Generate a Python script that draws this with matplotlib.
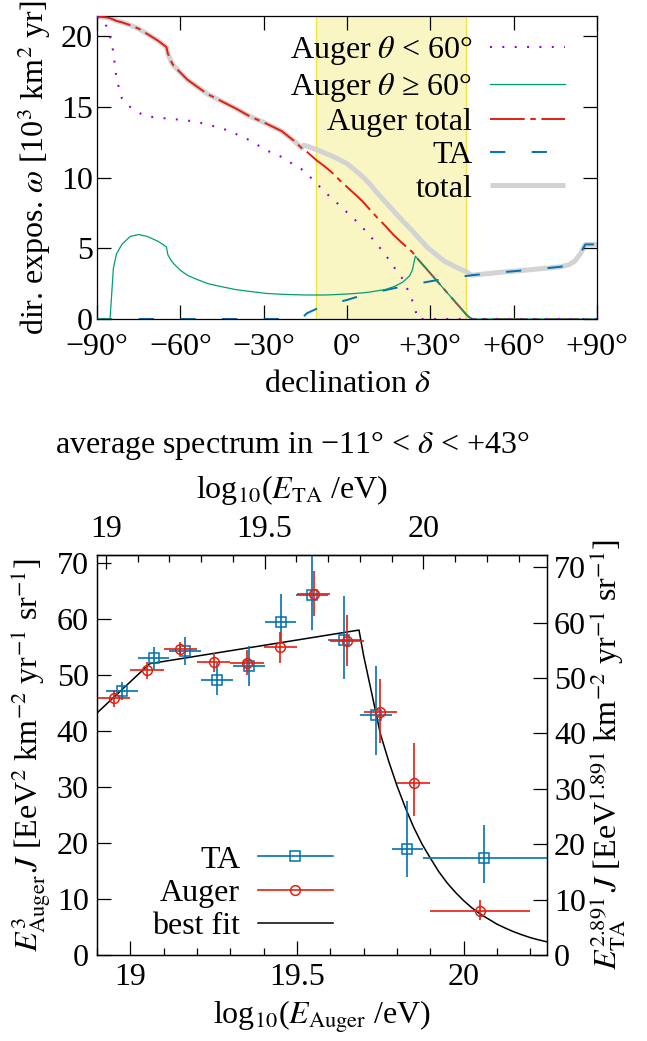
import numpy as np
import matplotlib
matplotlib.use('Agg')
import matplotlib.pyplot as plt
from matplotlib.lines import Line2D
from matplotlib.ticker import FixedLocator, FixedFormatter, MultipleLocator

plt.rcParams['font.family'] = ['Liberation Serif', 'DejaVu Serif']
plt.rcParams['mathtext.fontset'] = 'stix'
plt.rcParams['lines.scale_dashes'] = False
plt.rcParams['axes.linewidth'] = 0.9

# ---------------- top panel data (directional exposure) ----------------
dec = [-90, -88, -86.5, -85.3, -84.8, -84.1, -83, -81, -78, -75, -72, -68, -65, -64.5,
       -63.5, -62.5, -60, -57.5, -54, -50, -45, -40, -35, -29, -23.5, -19, -16.3, -15.7,
       -14.5, -11, -8, -5, -2, 0, 2.5, 5.5, 8, 11, 14, 17, 20, 22.5, 23.5, 24.6, 25.3,
       29, 35, 40, 43, 44, 45, 50, 55, 60, 67, 72, 77, 80, 82, 84, 85, 85.8, 90]

auger_lo60 = [21.4, 21.2, 20.7, 20.0, 19.5, 18.9, 17.0, 15.6, 15.0, 14.6, 14.35, 14.25, 14.2, 14.2,
              14.17, 14.15, 14.1, 14.05, 13.95, 13.75, 13.5, 13.1, 12.65, 11.94, 11.47, 10.9, 10.6, 10.5,
              10.3, 9.6, 9.0, 8.45, 7.94, 7.55, 7.1, 6.5, 5.95, 5.25, 4.5, 3.65, 2.85, 1.8, 1.3, 0.7, 0.0,
              0, 0, 0, 0, 0, 0, 0, 0, 0, 0, 0, 0, 0, 0, 0, 0, 0, 0]

auger_hi60 = [0, 0, 0, 0, 1.5, 3.6, 4.6, 5.3, 5.85, 5.98, 5.85, 5.5, 5.1, 4.55,
              4.2, 3.94, 3.45, 3.1, 2.8, 2.5, 2.28, 2.08, 1.95, 1.81, 1.75, 1.72, 1.71, 1.7,
              1.7, 1.7, 1.7, 1.72, 1.75, 1.77, 1.8, 1.85, 1.9, 2.0, 2.1, 2.3, 2.6, 3.05, 3.45, 4.45, 4.29,
              3.46, 2.1, 0.98, 0.3, 0.12, 0, 0, 0, 0, 0, 0, 0, 0, 0, 0, 0, 0, 0]

auger_total = [21.4, 21.38, 21.35, 21.3, 21.25, 21.2, 21.1, 21.0, 20.8, 20.55, 20.19, 19.7, 19.25, 18.8,
               18.3, 17.95, 17.45, 16.95, 16.45, 15.9, 15.4, 14.9, 14.35, 13.83, 13.3, 12.6, 12.1, 12.0,
               11.85, 11.24, 10.8, 10.3, 9.7, 9.35, 8.9, 8.35, 7.8, 7.15, 6.55, 5.9, 5.35, 4.92, 4.75, 4.45, 4.29,
               3.46, 2.1, 0.98, 0.3, 0.12, 0, 0, 0, 0, 0, 0, 0, 0, 0, 0, 0, 0, 0]

ta_expo = [0, 0, 0, 0, 0, 0, 0, 0, 0, 0, 0, 0, 0, 0,
           0, 0, 0, 0, 0, 0, 0, 0, 0, 0, 0, 0, 0, 0.16,
           0.4, 0.72, 0.95, 1.1, 1.25, 1.35, 1.5, 1.68, 1.8, 1.92, 2.05, 2.18, 2.3, 2.4, 2.43, 2.47, 2.5,
           2.63, 2.85, 2.98, 3.05, 3.07, 3.1, 3.2, 3.3, 3.38, 3.51, 3.6, 3.7, 3.85, 4.1, 4.6, 5.0, 5.28, 5.28]

total_expo = [21.4, 21.38, 21.35, 21.3, 21.25, 21.2, 21.1, 21.0, 20.8, 20.55, 20.19, 19.7, 19.25, 18.8,
              18.3, 17.95, 17.45, 16.95, 16.45, 15.9, 15.4, 14.9, 14.35, 13.83, 13.3, 12.6, 12.1, 12.3,
              12.25, 12.0, 11.75, 11.5, 11.2, 11.0, 10.6, 10.1, 9.6, 8.9, 8.25, 7.6, 6.95, 6.45, 6.25, 6.0, 5.85,
              5.05, 4.1, 3.6, 3.34, 3.2, 3.1, 3.2, 3.3, 3.38, 3.51, 3.6, 3.7, 3.85, 4.1, 4.6, 5.0, 5.28, 5.28]

band = [-11, 43]
dec_ticks = [-90, -60, -30, 0, 30, 60, 90]
dec_ticklabels = ['\u221290\u00b0', '\u221260\u00b0', '\u221230\u00b0', '0\u00b0', '+30\u00b0', '+60\u00b0', '+90\u00b0']
expo_ticks = [0, 5, 10, 15, 20]

# ---------------- bottom panel data (spectrum) ----------------
ta_logE = [19.05, 19.15, 19.25, 19.35, 19.45, 19.55, 19.65, 19.75, 19.85, 19.95, 20.19]
ta_bin_lo = [19.0, 19.1, 19.2, 19.3, 19.4, 19.5, 19.6, 19.7, 19.8, 19.9, 20.0]
ta_bin_hi = [19.1, 19.2, 19.3, 19.4, 19.5, 19.6, 19.7, 19.8, 19.9, 20.0, 20.6]
ta_flux = [47.2, 53.0, 54.2, 49.1, 51.5, 59.5, 64.3, 56.3, 42.9, 18.9, 17.4]
ta_err_lo = [1.7, 2.0, 2.4, 2.7, 3.5, 3.8, 6.3, 7.1, 7.2, 5.0, 4.5]
ta_err_hi = [1.6, 1.9, 2.5, 3.0, 3.7, 4.9, 7.0, 7.7, 8.7, 8.5, 5.8]

auger_logE = [18.95, 19.05, 19.15, 19.25, 19.35, 19.45, 19.55, 19.65, 19.75, 19.85, 20.05]
auger_bin_lo = [18.9, 19.0, 19.1, 19.2, 19.3, 19.4, 19.5, 19.6, 19.7, 19.8, 19.9]
auger_bin_hi = [19.0, 19.1, 19.2, 19.3, 19.4, 19.5, 19.6, 19.7, 19.8, 19.9, 20.2]
auger_flux = [45.8, 50.8, 54.7, 52.3, 52.1, 54.9, 64.5, 56.1, 43.3, 30.7, 7.9]
auger_err_lo = [1.5, 1.5, 1.2, 1.7, 2.1, 2.7, 4.0, 4.5, 5.4, 5.9, 1.6]
auger_err_hi = [1.5, 1.5, 1.2, 1.6, 2.4, 2.8, 4.1, 4.6, 5.9, 7.1, 2.0]

fit_logE = [18.9, 19.058, 19.686, 19.70, 19.725, 19.75, 19.775, 19.80, 19.825, 19.85, 19.875, 19.90,
            19.925, 19.95, 19.975, 20.0, 20.025, 20.05, 20.075, 20.1, 20.125, 20.15, 20.175, 20.2,
            20.225, 20.25]
fit_flux = [43.2, 52.0, 58.0, 53.4, 46.5, 39.5, 34.6, 30.2, 26.3, 22.8, 19.8, 17.3,
            14.9, 12.9, 11.2, 9.7, 8.4, 7.3, 6.4, 5.5, 4.8, 4.15, 3.6, 3.1,
            2.7, 2.35]

spec_xticks = [19, 19.5, 20]
spec_xticklabels = ['19', '19.5', '20']
ta_xticks = [19, 19.5, 20]
ta_xticklabels = ['19', '19.5', '20']
flux_ticks = [0, 10, 20, 30, 40, 50, 60, 70]
flux_ticklabels = ['0', '10', '20', '30', '40', '50', '60', '70']

TA19_IN_AUGER = 18.927
TA_SLOPE = 0.952


def ta_to_auger(x):
    return TA19_IN_AUGER + TA_SLOPE * (np.asarray(x) - 19.0)


def auger_to_ta(x):
    return 19.0 + (np.asarray(x) - TA19_IN_AUGER) / TA_SLOPE


C_PURPLE = '#9400d3'
C_GREEN = '#009e73'
C_RED = '#e51e10'
C_BLUE = '#0072b2'
C_GRAY = '#d3d3d3'
FS = 23

W, H = 647, 1041
fig = plt.figure(figsize=(W / 100, H / 100), dpi=100)

# ====================== top panel ======================
ax1 = fig.add_axes([97 / W, 1 - 319 / H, 500 / W, 303 / H])
ax1.axvspan(band[0], band[1], facecolor='#faf6c4', edgecolor='none', zorder=0)
for b in band:
    ax1.axvline(b, color='#f0e442', lw=1.0, zorder=0.5)

l_tot, = ax1.plot(dec, total_expo, color=C_GRAY, lw=3.6, zorder=1, solid_capstyle='butt')
l_red, = ax1.plot(dec, auger_total, color=C_RED, lw=1.4, dashes=(25, 4, 4, 4), zorder=3)
l_ta, = ax1.plot(dec, ta_expo, color=C_BLUE, lw=1.4, dashes=(11, 19), zorder=2)
l_grn, = ax1.plot(dec, auger_hi60, color=C_GREEN, lw=0.9, zorder=4)
l_pur, = ax1.plot(dec, auger_lo60, color=C_PURPLE, lw=1.5, dashes=(1.4, 7.5), zorder=5)

ax1.set_xlim(-90, 90)
ax1.set_ylim(0, 21.45)
ax1.xaxis.set_major_locator(FixedLocator(dec_ticks))
ax1.xaxis.set_major_formatter(FixedFormatter(dec_ticklabels))
ax1.yaxis.set_major_locator(FixedLocator(expo_ticks))
ax1.tick_params(axis='both', which='major', direction='in', top=True, right=True,
                length=10, width=0.9, labelsize=FS)
ax1.tick_params(axis='x', pad=10)
ax1.tick_params(axis='y', pad=3)
ax1.set_xlabel(r'declination $\delta$', fontsize=FS)
ax1.xaxis.set_label_coords(0.5, -0.168)
ax1.set_ylabel(r'dir. expos. $\omega$ [10$^3$ km$^2$ yr]', fontsize=FS)
ax1.yaxis.set_label_coords(-0.088, 0.5)

leg1 = ax1.legend([l_pur, l_grn, l_red, l_ta, l_tot],
                  [r'Auger $\theta$ < 60°', r'Auger $\theta$ ≥ 60°', 'Auger total', 'TA', 'total'],
                  loc='upper right', bbox_to_anchor=(0.936, 0.94), markerfirst=False,
                  frameon=False, fontsize=FS, handlelength=2.35, handletextpad=0.55,
                  labelspacing=0.12, borderpad=0, borderaxespad=0)
leg1.set_zorder(6)

# ====================== bottom panel ======================
ax2 = fig.add_axes([97 / W, 1 - 955 / H, 450 / W, 400 / H])
ax2.plot(fit_logE, fit_flux, color='k', lw=1.1, zorder=2)

ta_x = ta_to_auger(ta_logE)
ta_xlo = ta_x - ta_to_auger(ta_bin_lo)
ta_xhi = ta_to_auger(ta_bin_hi) - ta_x
ax2.errorbar(ta_x, ta_flux, xerr=[ta_xlo, ta_xhi], yerr=[ta_err_lo, ta_err_hi],
             fmt='s', mfc='none', mec=C_BLUE, ecolor=C_BLUE, ms=6.5, mew=1.1,
             elinewidth=1.2, capsize=0, zorder=3)

au_x = np.asarray(auger_logE)
au_xlo = au_x - np.asarray(auger_bin_lo)
au_xhi = np.asarray(auger_bin_hi) - au_x
ax2.errorbar(au_x, auger_flux, xerr=[au_xlo, au_xhi], yerr=[auger_err_lo, auger_err_hi],
             fmt='o', mfc='none', mec=C_RED, ecolor=C_RED, ms=7, mew=1.1,
             elinewidth=1.2, capsize=0, zorder=4)

ax2.set_xlim(18.9, 20.25)
ax2.set_ylim(0, 71.4)
ax2.xaxis.set_major_locator(FixedLocator(spec_xticks))
ax2.xaxis.set_major_formatter(FixedFormatter(spec_xticklabels))
ax2.xaxis.set_minor_locator(MultipleLocator(0.1))
ax2.yaxis.set_major_locator(FixedLocator(flux_ticks))
ax2.yaxis.set_major_formatter(FixedFormatter(flux_ticklabels))
ax2.tick_params(axis='both', which='major', direction='in', top=False, right=False,
                length=10, width=0.9, labelsize=FS)
ax2.tick_params(axis='x', which='minor', direction='in', top=False, length=5, width=0.9)
ax2.tick_params(axis='x', pad=6)
ax2.tick_params(axis='y', pad=6)
ax2.set_xlabel(r'log$_{10}$($E_{\mathrm{Auger}}$ /eV)', fontsize=FS)
ax2.xaxis.set_label_coords(0.5, -0.11)
ax2.set_ylabel(r'$E^3_{\mathrm{Auger}}\,J$ [EeV$^2$ km$^{-2}$ yr$^{-1}$ sr$^{-1}$]', fontsize=FS)
ax2.yaxis.set_label_coords(-0.098, 0.5)

ax2r = ax2.twinx()
ax2r.set_ylim(0, 72.2)
ax2r.yaxis.set_major_locator(FixedLocator(flux_ticks))
ax2r.yaxis.set_major_formatter(FixedFormatter(flux_ticklabels))
ax2r.tick_params(axis='y', direction='in', length=10, width=0.9, labelsize=FS, pad=5)
ax2r.set_ylabel(r'$E^{2.891}_{\mathrm{TA}}\,J$ [EeV$^{1.891}$ km$^{-2}$ yr$^{-1}$ sr$^{-1}$]',
                fontsize=FS)
ax2r.yaxis.set_label_coords(1.09, 0.5)

sec = ax2.secondary_xaxis('top', functions=(auger_to_ta, ta_to_auger))
sec.xaxis.set_major_locator(FixedLocator(ta_xticks))
sec.xaxis.set_major_formatter(FixedFormatter(ta_xticklabels))
sec.xaxis.set_minor_locator(MultipleLocator(0.1))
sec.tick_params(axis='x', which='major', direction='in', length=10, width=0.9, labelsize=FS, pad=8)
sec.tick_params(axis='x', which='minor', direction='in', length=5, width=0.9)

fig.text(292 / W, 1 - 490 / H, r'log$_{10}$($E_{\mathrm{TA}}$ /eV)', fontsize=FS,
         ha='center', va='center')
fig.text(292 / W, 1 - 445 / H, r'average spectrum in −11° < $\delta$ < +43°', fontsize=FS,
         ha='center', va='center')

h_ta = Line2D([0], [0], color=C_BLUE, lw=1.2, marker='s', mfc='none', mec=C_BLUE, ms=6.5, mew=1.1)
h_au = Line2D([0], [0], color=C_RED, lw=1.2, marker='o', mfc='none', mec=C_RED, ms=7, mew=1.1)
h_fit = Line2D([0], [0], color='k', lw=1.1)
ax2.legend([h_ta, h_au, h_fit], ['TA', 'Auger', 'best fit'], loc='lower right',
           bbox_to_anchor=(0.524, 0.035), markerfirst=False, frameon=False, fontsize=FS,
           handlelength=2.35, handletextpad=0.55, labelspacing=0.12, borderpad=0,
           borderaxespad=0, numpoints=1)

fig.savefig('out.png', dpi=100)
